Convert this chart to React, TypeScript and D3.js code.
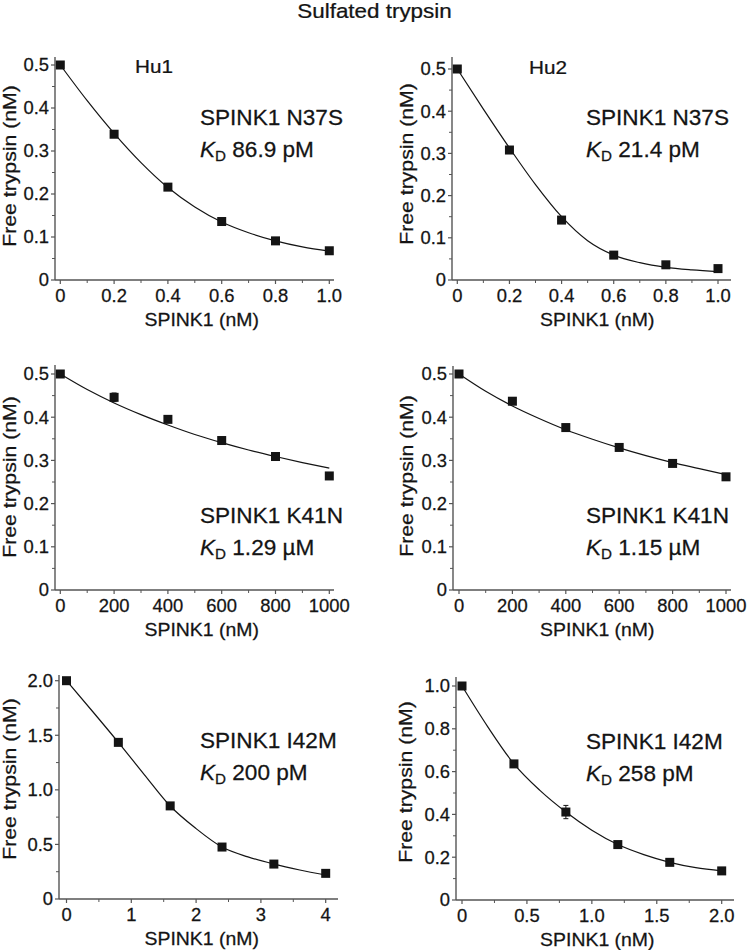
import * as d3 from "d3";
import React from "react";

const FONT = '"Liberation Sans", Arial, Helvetica, sans-serif';

// SPINK1 concentrations (nM)
const N37S_CONC = [0, 0.2, 0.4, 0.6, 0.8, 1.0];
const K41N_CONC = [0, 200, 400, 600, 800, 1000];
const I42M_HU1_CONC = [0, 0.8, 1.6, 2.4, 3.2, 4.0];
const I42M_HU2_CONC = [0, 0.4, 0.8, 1.2, 1.6, 2.0];

// free trypsin (nM)
const N37S_HU1_FREE = [0.5, 0.339, 0.216, 0.136, 0.091, 0.068];
const N37S_HU2_FREE = [0.5, 0.308, 0.142, 0.059, 0.036, 0.027];
const K41N_HU1_FREE = [0.5, 0.446, 0.395, 0.346, 0.309, 0.264];
const K41N_HU2_FREE = [0.5, 0.437, 0.376, 0.33, 0.293, 0.262];
const I42M_HU1_FREE = [2.0, 1.435, 0.853, 0.476, 0.32, 0.235];
const I42M_HU2_FREE = [1.0, 0.636, 0.411, 0.259, 0.176, 0.136];

// error bars (only the visible ones)
const K41N_HU1_ERR = [0, 0.01, 0, 0, 0, 0];
const I42M_HU2_ERR = [0, 0, 0.031, 0, 0, 0];

// fitted curves
const N37S_FIT_CONC = [0, 0.1, 0.2, 0.3, 0.4, 0.5, 0.6, 0.7, 0.8, 0.9, 1.0];
const N37S_HU1_FIT = [0.5, 0.417, 0.341, 0.273, 0.215, 0.17, 0.135, 0.11, 0.091, 0.077, 0.067];
const N37S_HU2_FIT = [0.5, 0.405, 0.313, 0.226, 0.15, 0.093, 0.059, 0.041, 0.03, 0.024, 0.02];
const K41N_FIT_CONC = [0, 100, 200, 300, 400, 500, 600, 700, 800, 900, 1000];
const K41N_HU1_FIT = [0.5, 0.464, 0.433, 0.406, 0.382, 0.36, 0.341, 0.324, 0.309, 0.295, 0.282];
const K41N_HU2_FIT = [0.5, 0.46, 0.426, 0.397, 0.371, 0.349, 0.329, 0.311, 0.295, 0.281, 0.267];
const I42M_HU1_FIT_CONC = [0, 0.4, 0.8, 1.2, 1.6, 2.0, 2.4, 2.8, 3.2, 3.6, 4.0];
const I42M_HU1_FIT = [2.0, 1.72, 1.435, 1.14, 0.852, 0.645, 0.476, 0.386, 0.32, 0.266, 0.22];
const I42M_HU2_FIT_CONC = [0, 0.2, 0.4, 0.6, 0.8, 1.0, 1.2, 1.4, 1.6, 1.8, 2.0];
const I42M_HU2_FIT = [1.0, 0.808, 0.636, 0.512, 0.411, 0.326, 0.259, 0.212, 0.176, 0.151, 0.136];

// ticks
const X_TICKS_N37S = [0, 0.2, 0.4, 0.6, 0.8, 1.0];
const X_LABELS_N37S = ["0", "0.2", "0.4", "0.6", "0.8", "1.0"];
const X_TICKS_K41N = [0, 200, 400, 600, 800, 1000];
const X_LABELS_K41N = ["0", "200", "400", "600", "800", "1000"];
const X_TICKS_I42M_HU1 = [0, 1, 2, 3, 4];
const X_LABELS_I42M_HU1 = ["0", "1", "2", "3", "4"];
const X_TICKS_I42M_HU2 = [0, 0.5, 1.0, 1.5, 2.0];
const X_LABELS_I42M_HU2 = ["0", "0.5", "1.0", "1.5", "2.0"];
const Y_TICKS_05 = [0, 0.1, 0.2, 0.3, 0.4, 0.5];
const Y_LABELS_05 = ["0", "0.1", "0.2", "0.3", "0.4", "0.5"];
const Y_TICKS_20 = [0, 0.5, 1.0, 1.5, 2.0];
const Y_LABELS_20 = ["0", "0.5", "1.0", "1.5", "2.0"];
const Y_TICKS_10 = [0, 0.2, 0.4, 0.6, 0.8, 1.0];
const Y_LABELS_10 = ["0", "0.2", "0.4", "0.6", "0.8", "1.0"];

const TITLE = "Sulfated trypsin";
const X_TITLE = "SPINK1 (nM)";
const Y_TITLE = "Free trypsin (nM)";
const MUTANTS = ["SPINK1 N37S", "SPINK1 N37S", "SPINK1 K41N", "SPINK1 K41N", "SPINK1 I42M", "SPINK1 I42M"];
const KD_VALUES = ["86.9 pM", "21.4 pM", "1.29 µM", "1.15 µM", "200 pM", "258 pM"];
const DONORS = ["Hu1", "Hu2", "", "", "", ""];

// pixel boxes for each panel
const LAYOUT = [
  { axisX: 55, x0: 60.3, x1: 329.3, axisEnd: 334, y0: 280, y1: 65, yTop: 57, ann: [200, 125], donor: [135, 73], yTitle: [9.5, 166], xTitle: 201.7 },
  { axisX: 452, x0: 457.3, x1: 718, axisEnd: 731, y0: 280, y1: 69, yTop: 57, ann: [586, 125], donor: [529, 74], yTitle: [406.5, 164], xTitle: 597.3 },
  { axisX: 55, x0: 60.3, x1: 329.3, axisEnd: 334, y0: 590, y1: 374, yTop: 365, ann: [200, 523], donor: [0, 0], yTitle: [9.5, 477], xTitle: 201.7 },
  { axisX: 453, x0: 459, x1: 726, axisEnd: 731, y0: 590, y1: 374, yTop: 366, ann: [586, 523], donor: [0, 0], yTitle: [406.5, 476], xTitle: 597.3 },
  { axisX: 59, x0: 66.5, x1: 325.7, axisEnd: 338, y0: 899, y1: 680.7, yTop: 675, ann: [200, 748], donor: [0, 0], yTitle: [9.5, 779], xTitle: 201.7 },
  { axisX: 456, x0: 462, x1: 721.7, axisEnd: 734, y0: 900, y1: 686, yTop: 677, ann: [586, 749], donor: [0, 0], yTitle: [405.5, 782], xTitle: 597.3 },
];

const PANELS = [
  { conc: N37S_CONC, free: N37S_HU1_FREE, err: null, fitX: N37S_FIT_CONC, fitY: N37S_HU1_FIT, xTicks: X_TICKS_N37S, xLabels: X_LABELS_N37S, yTicks: Y_TICKS_05, yLabels: Y_LABELS_05 },
  { conc: N37S_CONC, free: N37S_HU2_FREE, err: null, fitX: N37S_FIT_CONC, fitY: N37S_HU2_FIT, xTicks: X_TICKS_N37S, xLabels: X_LABELS_N37S, yTicks: Y_TICKS_05, yLabels: Y_LABELS_05 },
  { conc: K41N_CONC, free: K41N_HU1_FREE, err: K41N_HU1_ERR, fitX: K41N_FIT_CONC, fitY: K41N_HU1_FIT, xTicks: X_TICKS_K41N, xLabels: X_LABELS_K41N, yTicks: Y_TICKS_05, yLabels: Y_LABELS_05 },
  { conc: K41N_CONC, free: K41N_HU2_FREE, err: null, fitX: K41N_FIT_CONC, fitY: K41N_HU2_FIT, xTicks: X_TICKS_K41N, xLabels: X_LABELS_K41N, yTicks: Y_TICKS_05, yLabels: Y_LABELS_05 },
  { conc: I42M_HU1_CONC, free: I42M_HU1_FREE, err: null, fitX: I42M_HU1_FIT_CONC, fitY: I42M_HU1_FIT, xTicks: X_TICKS_I42M_HU1, xLabels: X_LABELS_I42M_HU1, yTicks: Y_TICKS_20, yLabels: Y_LABELS_20 },
  { conc: I42M_HU2_CONC, free: I42M_HU2_FREE, err: I42M_HU2_ERR, fitX: I42M_HU2_FIT_CONC, fitY: I42M_HU2_FIT, xTicks: X_TICKS_I42M_HU2, xLabels: X_LABELS_I42M_HU2, yTicks: Y_TICKS_10, yLabels: Y_LABELS_10 },
];

const AXIS = "#555";
const INK = "#141414";
const MARK = 9;

// midpoints between major ticks
const minors = (t: number[]) => t.slice(1).map((v, i) => (v + t[i]) / 2);

function Txt(props: any) {
  const { x, y, size, sx = 1, anchor = "start", rotate = 0, baseline, children } = props;
  return (
    <text
      transform={`translate(${x},${y})${rotate ? ` rotate(${rotate})` : ""} scale(${sx},1)`}
      fontSize={size}
      textAnchor={anchor}
      dominantBaseline={baseline}
      fill={INK}
      stroke={INK}
      strokeWidth={0.25}
    >
      {children}
    </text>
  );
}

function Panel({ idx }: { idx: number }) {
  const p = PANELS[idx];
  const L = LAYOUT[idx];
  const x = d3.scaleLinear().domain([0, p.xTicks[p.xTicks.length - 1]]).range([L.x0, L.x1]);
  const y = d3.scaleLinear().domain([0, p.yTicks[p.yTicks.length - 1]]).range([L.y0, L.y1]);
  const fit = d3
    .line<number>()
    .x((_, i) => x(p.fitX[i]))
    .y(d => y(d))
    .curve(d3.curveMonotoneX)(p.fitY);

  return (
    <g>
      {/* axes */}
      <line x1={L.axisX} x2={L.axisEnd} y1={L.y0} y2={L.y0} stroke={AXIS} strokeWidth={1.4} />
      <line x1={L.axisX} x2={L.axisX} y1={L.y0} y2={L.yTop} stroke={AXIS} strokeWidth={1.4} />
      {p.xTicks.map(t => (
        <line key={"xt" + t} x1={x(t)} x2={x(t)} y1={L.y0} y2={L.y0 + 4} stroke={AXIS} strokeWidth={1.2} />
      ))}
      {minors(p.xTicks).map(t => (
        <line key={"xm" + t} x1={x(t)} x2={x(t)} y1={L.y0} y2={L.y0 + 3} stroke={AXIS} strokeWidth={1} />
      ))}
      {p.yTicks.map(t => (
        <line key={"yt" + t} x1={L.axisX} x2={L.axisX - 4} y1={y(t)} y2={y(t)} stroke={AXIS} strokeWidth={1.2} />
      ))}
      {minors(p.yTicks).map(t => (
        <line key={"ym" + t} x1={L.axisX} x2={L.axisX - 3} y1={y(t)} y2={y(t)} stroke={AXIS} strokeWidth={1} />
      ))}
      {p.xTicks.map((t, i) => (
        <Txt key={"xl" + t} x={x(t)} y={L.y0 + 22} size={17.5} sx={1.05} anchor="middle">
          {p.xLabels[i]}
        </Txt>
      ))}
      {p.yTicks.map((t, i) => (
        <Txt key={"yl" + t} x={L.axisX - 6} y={y(t) + 6.3} size={17.5} sx={1.05} anchor="end">
          {p.yLabels[i]}
        </Txt>
      ))}
      <Txt x={L.xTitle} y={L.y0 + 46} size={18} sx={1.08} anchor="middle">
        {X_TITLE}
      </Txt>
      <Txt x={L.yTitle[0]} y={L.yTitle[1]} size={18} sx={1.18} anchor="middle" rotate={-90} baseline="central">
        {Y_TITLE}
      </Txt>

      {/* fit + data */}
      <path d={fit || ""} fill="none" stroke={INK} strokeWidth={1.2} />
      {p.err &&
        p.conc.map((c, i) =>
          p.err[i] > 0 ? (
            <g key={"e" + i} stroke={INK} strokeWidth={1}>
              <line x1={x(c)} x2={x(c)} y1={y(p.free[i] - p.err[i])} y2={y(p.free[i] + p.err[i])} />
              <line x1={x(c) - 2.5} x2={x(c) + 2.5} y1={y(p.free[i] + p.err[i])} y2={y(p.free[i] + p.err[i])} />
              <line x1={x(c) - 2.5} x2={x(c) + 2.5} y1={y(p.free[i] - p.err[i])} y2={y(p.free[i] - p.err[i])} />
            </g>
          ) : null
        )}
      {p.conc.map((c, i) => (
        <rect key={"m" + i} x={x(c) - MARK / 2} y={y(p.free[i]) - MARK / 2} width={MARK} height={MARK} fill={INK} />
      ))}

      {/* annotations */}
      {DONORS[idx] && (
        <Txt x={L.donor[0]} y={L.donor[1]} size={18.5} sx={1.12}>
          {DONORS[idx]}
        </Txt>
      )}
      <Txt x={L.ann[0]} y={L.ann[1]} size={21.5} sx={1.05}>
        {MUTANTS[idx]}
      </Txt>
      <Txt x={L.ann[0]} y={L.ann[1] + 32} size={21.5} sx={1.05}>
        <tspan fontStyle="italic">K</tspan>
        <tspan fontSize={14.5} dy={3.5}>D</tspan>
        <tspan dy={-3.5}>{" " + KD_VALUES[idx]}</tspan>
      </Txt>
    </g>
  );
}

export default function App() {
  return (
    <svg
      width={747}
      height={950}
      style={{ position: "absolute", left: 0, top: 0, background: "#fff", fontFamily: FONT }}
    >
      <rect width={747} height={950} fill="#fff" />
      <Txt x={374.5} y={17.5} size={19.5} sx={1.15} anchor="middle">
        {TITLE}
      </Txt>
      {PANELS.map((_, i) => (
        <Panel key={i} idx={i} />
      ))}
    </svg>
  );
}
